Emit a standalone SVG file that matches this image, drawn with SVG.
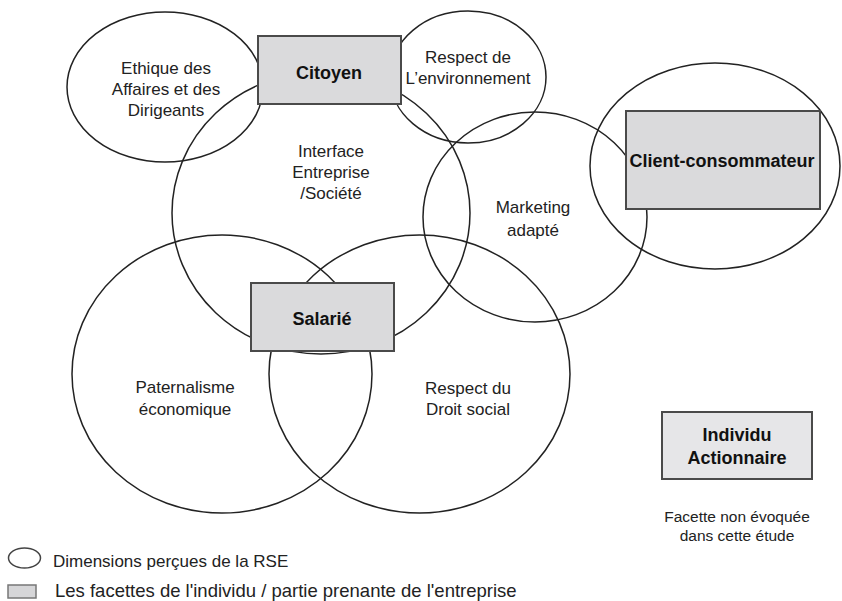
<svg xmlns="http://www.w3.org/2000/svg" width="842" height="601" viewBox="0 0 842 601">
<style>
.dim{fill:none;stroke:#222;stroke-width:1.5}
.box{fill:#dadadc;stroke:#4a4a4a;stroke-width:2}
.t{font-family:"Liberation Sans",Arial,sans-serif;font-size:17px;fill:#222;text-anchor:middle}
.b{font-family:"Liberation Sans",Arial,sans-serif;font-size:18px;font-weight:bold;fill:#111;text-anchor:middle}
.lg{font-family:"Liberation Sans",Arial,sans-serif;fill:#222}
</style>
<rect width="842" height="601" fill="#fff"/>
<g id="dimensions">
<g id="ethique"><ellipse class="dim" cx="165" cy="87" rx="98" ry="75"/>
<text class="t" x="166" y="74">Ethique des</text><text class="t" x="166" y="95">Affaires et des</text><text class="t" x="166" y="116">Dirigeants</text></g>
<g id="environnement"><ellipse class="dim" cx="468" cy="77" rx="78" ry="66"/>
<text class="t" x="468" y="63">Respect de</text><text class="t" x="468" y="84">L’environnement</text></g>
<g id="interface"><ellipse class="dim" cx="321" cy="213" rx="149" ry="141"/>
<text class="t" x="331" y="157">Interface</text><text class="t" x="331" y="178">Entreprise</text><text class="t" x="331" y="199">/Société</text></g>
<g id="marketing"><ellipse class="dim" cx="535" cy="217" rx="112" ry="105"/>
<text class="t" x="533" y="213">Marketing</text><text class="t" x="533" y="236">adapté</text></g>
<g id="client-zone"><ellipse class="dim" cx="715" cy="166" rx="125" ry="103"/></g>
<g id="paternalisme"><ellipse class="dim" cx="222" cy="374" rx="150" ry="139"/>
<text class="t" x="185" y="393">Paternalisme</text><text class="t" x="185" y="415">économique</text></g>
<g id="droit-social"><ellipse class="dim" cx="419.5" cy="374" rx="150.5" ry="139"/>
<text class="t" x="468" y="394">Respect du</text><text class="t" x="468" y="415">Droit social</text></g>
</g>
<g id="connectors"></g>
<g id="citoyen"><rect class="box" x="258" y="36" width="143" height="68"/><text class="b" x="329" y="79">Citoyen</text></g>
<g id="client"><rect class="box" x="626" y="111" width="194" height="98"/><text class="b" x="722" y="167">Client-consommateur</text></g>
<g id="salarie"><rect class="box" x="251" y="283" width="143" height="68"/><text class="b" x="322" y="325">Salarié</text></g>
<g id="actionnaire"><rect class="box" x="662" y="412" width="150" height="67" style="fill:#e6e6e8"/>
<text class="b" x="737" y="441">Individu</text><text class="b" x="737" y="464">Actionnaire</text></g>
<g id="note"><text class="t" x="737" y="522" style="font-size:15.5px">Facette non évoquée</text><text class="t" x="737" y="541" style="font-size:15.5px">dans cette étude</text></g>
<g id="legend">
<ellipse cx="24.5" cy="558" rx="16" ry="10" fill="#fff" stroke="#444" stroke-width="1.5"/>
<text class="lg" x="53" y="567" style="font-size:17px">Dimensions perçues de la RSE</text>
<rect x="8" y="585" width="28" height="13" fill="#d6d6d8" stroke="#777" stroke-width="1.5"/>
<text class="lg" x="55" y="597" style="font-size:18.5px">Les facettes de l'individu / partie prenante de l'entreprise</text>
</g>
</svg>
